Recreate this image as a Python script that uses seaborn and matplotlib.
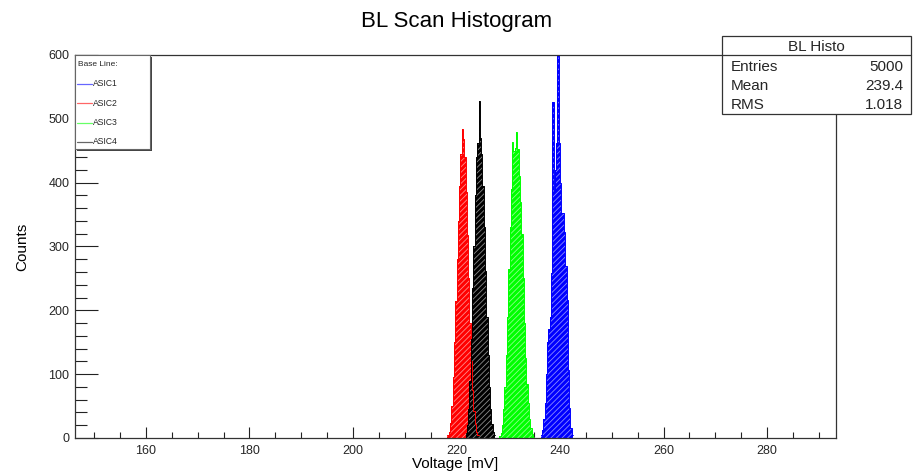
import numpy as np
import pandas as pd
import matplotlib
matplotlib.use("Agg")
import matplotlib.pyplot as plt
import seaborn as sns
from matplotlib.patches import Rectangle
from matplotlib.lines import Line2D
from matplotlib.ticker import MultipleLocator

# ---------------- data ----------------
BIN_WIDTH = 0.25
series_names = ["ASIC1", "ASIC2", "ASIC3", "ASIC4"]
series_colors = ["#0000ff", "#ff0000", "#00ff00", "#000000"]

asic1_start = 236.25
asic1_counts = [5, 12, 30, 55, 100, 151, 170, 190, 258, 527, 389, 420, 462,
                600, 462, 400, 352, 352, 322, 270, 216, 107, 47, 15, 5]
asic2_start = 218.25
asic2_counts = [4, 10, 24, 50, 95, 150, 215, 280, 340, 395, 445, 484, 468,
                440, 385, 318, 250, 180, 120, 75, 42, 22, 10, 4]
asic3_start = 228.25
asic3_counts = [3, 8, 20, 45, 80, 130, 190, 265, 330, 390, 464, 449, 455,
                480, 453, 410, 370, 320, 250, 180, 125, 85, 55, 30, 15, 6, 2]
asic4_start = 221.75
asic4_counts = [8, 20, 45, 90, 155, 235, 300, 380, 440, 462, 528, 470, 445,
                395, 330, 262, 190, 130, 80, 45, 22, 10, 4]

series_starts = [asic1_start, asic2_start, asic3_start, asic4_start]
series_counts = [asic1_counts, asic2_counts, asic3_counts, asic4_counts]

title_text = "BL Scan Histogram"
x_label = "Voltage [mV]"
y_label = "Counts"
legend_title = "Base Line:"
stats_title = "BL Histo"
stats_names = ["Entries", "Mean", "RMS"]
stats_values = ["5000", "239.4", "1.018"]
x_range = (146.3, 293.3)
y_range = (0, 600)

rows = []
for name, start, counts in zip(series_names, series_starts, series_counts):
    for i, c in enumerate(counts):
        rows.append({"asic": name, "voltage": start + (i + 0.5) * BIN_WIDTH, "count": c})
df = pd.DataFrame(rows)

# ---------------- figure ----------------
W, H = 913, 475
sns.set_theme(style="white")
plt.rcParams['font.family'] = ['Liberation Sans', 'DejaVu Sans']
plt.rcParams['hatch.linewidth'] = 0.6

fig = plt.figure(figsize=(W / 100, H / 100), dpi=100)
fig.patch.set_facecolor("white")


def fx(px):
    return px / W


def fy(py):
    return 1 - py / H


ax_l, ax_r, ax_t, ax_b = 75, 836, 55, 438
ax = fig.add_axes([fx(ax_l), fy(ax_b), (ax_r - ax_l) / W, (ax_b - ax_t) / H])

for name, start, counts, color in zip(series_names, series_starts, series_counts, series_colors):
    sub = df[df["asic"] == name]
    edges = [float(start + BIN_WIDTH * k) for k in range(len(counts) + 1)]
    n_before = len(ax.collections)
    sns.histplot(data=sub, x="voltage", weights="count", bins=edges,
                 element="step", fill=True, color=color, alpha=1.0,
                 linewidth=0, ax=ax)
    for poly in ax.collections[n_before:]:
        poly.set_hatch("//////")
        poly.set_edgecolor((1, 1, 1, 0.55))
        poly.set_linewidth(0)
    sns.histplot(data=sub, x="voltage", weights="count", bins=edges,
                 element="step", fill=False, color=color, linewidth=0.7, ax=ax)

ax.set_xlim(*x_range)
ax.set_ylim(*y_range)
ax.xaxis.set_major_locator(MultipleLocator(20))
ax.xaxis.set_minor_locator(MultipleLocator(5))
ax.yaxis.set_major_locator(MultipleLocator(100))
ax.yaxis.set_minor_locator(MultipleLocator(20))
ax.tick_params(axis="x", which="major", direction="in", length=8.0, width=0.8,
               bottom=True, top=False, labelsize=9, pad=5, color="#222222")
ax.tick_params(axis="x", which="minor", direction="in", length=4.0, width=0.8,
               bottom=True, top=False, color="#222222")
ax.tick_params(axis="y", which="major", direction="in", length=16.5, width=0.8,
               left=True, right=False, labelsize=9, pad=4, color="#222222")
ax.tick_params(axis="y", which="minor", direction="in", length=8.3, width=0.8,
               left=True, right=False, color="#222222")
for s in ax.spines.values():
    s.set_color("#333333")
    s.set_linewidth(0.9)
ax.grid(False)

ax.set_xlabel(x_label, fontsize=11, color="black")
ax.set_ylabel(y_label, fontsize=11, color="black")
ax.xaxis.label.set_va("center")
ax.yaxis.label.set_va("center")
ax.xaxis.set_label_coords(0.5, (ax_b - 464) / (ax_b - ax_t))
ax.yaxis.set_label_coords((22 - ax_l) / (ax_r - ax_l), 0.5)

# title
fig.text(fx(456.5), fy(21), title_text, ha="center", va="center", fontsize=16, color="black")

# legend box (manual, ROOT-style with shadow)
lg_l, lg_t, lg_r, lg_b = 75, 55, 150, 149
fig.patches.append(Rectangle((fx(lg_l + 2), fy(lg_b + 2)), (lg_r - lg_l) / W, (lg_b - lg_t) / H,
                             transform=fig.transFigure, facecolor="#444444", edgecolor="none", zorder=5))
fig.patches.append(Rectangle((fx(lg_l), fy(lg_b)), (lg_r - lg_l) / W, (lg_b - lg_t) / H,
                             transform=fig.transFigure, facecolor="white", edgecolor="#666666",
                             linewidth=0.8, zorder=6))
fig.text(fx(78), fy(65), legend_title, ha="left", va="center", fontsize=6, zorder=7)
for i, (name, color) in enumerate(zip(series_names, series_colors)):
    yy = 84 + i * 19.3
    fig.add_artist(Line2D([fx(77), fx(92)], [fy(yy), fy(yy)], color=color, linewidth=0.9,
                          alpha=0.6, transform=fig.transFigure, zorder=7))
    fig.text(fx(93), fy(yy), name, ha="left", va="center", fontsize=6.2, zorder=7)

# stats box
sb_l, sb_t, sb_r, sb_b = 722, 36, 911, 114
fig.patches.append(Rectangle((fx(sb_l), fy(sb_b)), (sb_r - sb_l) / W, (sb_b - sb_t) / H,
                             transform=fig.transFigure, facecolor="white", edgecolor="#333333",
                             linewidth=0.9, zorder=5))
fig.add_artist(Line2D([fx(sb_l), fx(sb_r)], [fy(55), fy(55)], color="#333333", linewidth=0.9,
                      transform=fig.transFigure, zorder=6))
fig.text(fx((sb_l + sb_r) / 2), fy(47), stats_title, ha="center", va="center", fontsize=11, zorder=7)
for i, (n, v) in enumerate(zip(stats_names, stats_values)):
    yy = 67 + i * 19.2
    fig.text(fx(731), fy(yy), n, ha="left", va="center", fontsize=11, zorder=7)
    fig.text(fx(903), fy(yy), v, ha="right", va="center", fontsize=11, zorder=7)

fig.savefig("out.png", dpi=100, facecolor="white")
